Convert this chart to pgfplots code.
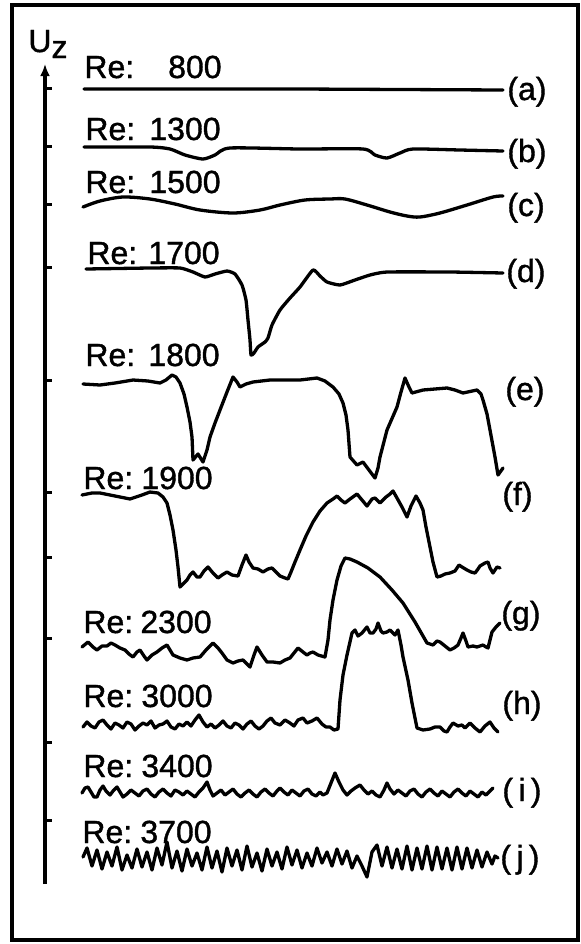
\documentclass[border=0pt]{standalone}
\usepackage{fontspec}
\setmainfont{Liberation Sans}[FakeBold=1.2]
\usepackage{pgfplots}
\pgfplotsset{compat=1.18}
\usetikzlibrary{arrows.meta}
\tikzset{lbl/.style={inner sep=0pt, font=\fontsize{16}{18}\selectfont}}
\pgfplotsset{trace/.style={black, mark=none, line width=1.65pt, line join=round, line cap=round}}

\begin{document}
\begin{tikzpicture}
\begin{axis}[
  width=290pt, height=472pt, scale only axis,
  xmin=0, xmax=580, ymin=0, ymax=944, y dir=reverse,
  hide axis, clip=false,
]
% page extent and frame
\path (0,0) rectangle (580,944);
\draw[line width=1.8pt] (12,5) rectangle (578,940);
% U_z axis
\draw[line width=2pt, -{Latex[length=6pt,width=5pt]}] (45,884) -- (45,64);
\draw[line width=1.5pt] (45,88) -- (52,88);
\draw[line width=1.5pt] (45,146) -- (52,146);
\draw[line width=1.5pt] (45,204) -- (52,204);
\draw[line width=1.5pt] (45,267) -- (52,267);
\draw[line width=1.5pt] (45,380) -- (52,380);
\draw[line width=1.5pt] (45,492) -- (52,492);
\draw[line width=1.5pt] (45,557) -- (52,557);
\draw[line width=1.5pt] (45,638) -- (52,638);
\draw[line width=1.5pt] (45,742) -- (52,742);
\draw[line width=1.5pt] (45,820) -- (52,820);
\node[lbl, anchor=base west] at (28,52) {U\raisebox{-3pt}{z}};

% (a) Re 800
\addplot[trace] coordinates {(84,89) (300,89) (503,90)};
% (b) Re 1300
\addplot[trace, smooth, tension=0.4] coordinates {(84,147) (150,147) (170,149) (185,155) (203,159) (215,155) (230,148) (300,149) (363,149) (375,155) (387,158) (400,153) (413,149) (460,150) (503,151)};
% (c) Re 1500
\addplot[trace, smooth, tension=0.5] coordinates {(83,207) (100,201) (123,197) (150,199) (175,204) (200,210) (233,213) (260,210) (280,205) (305,200) (330,199) (345,199) (367,205) (390,212) (407,216) (420,217) (440,213) (467,205) (493,197) (503,196)};
% (d) Re 1700
\addplot[trace, smooth, tension=0.3] coordinates {(86,269) (150,268) (180,268) (193,272) (205,277) (215,274) (227,271) (235,274) (242,285) (246,300) (248,320) (250,340) (251,355) (254,353) (258,347) (265,342) (268,338) (272,325) (280,310) (290,298) (300,287) (313,270) (320,276) (327,282) (340,285) (355,280) (370,275) (387,272) (450,272) (503,273)};
% (e) Re 1800
\addplot[trace] coordinates {(83,384) (100,385) (115,383) (133,380) (148,381) (160,383) (166,380) (172,375) (176,377) (180,383) (184,394) (187,407) (190,422) (192,437) (193,460) (198,454) (203,462) (207,450) (210,437) (215,423) (220,410) (227,392) (233,377) (237,382) (240,387) (246,384) (253,382) (270,380) (300,380) (317,378) (325,381) (333,387) (339,394) (343,403) (346,415) (348,430) (350,457) (357,465) (363,462) (369,470) (375,478) (378,468) (380,457) (387,430) (397,407) (401,392) (405,378) (409,387) (412,393) (423,390) (435,389) (447,388) (455,390) (463,393) (477,390) (481,394) (483,400) (487,414) (490,430) (495,457) (498,475) (503,468)};
% (f) Re 1900
\addplot[trace] coordinates {(82,495) (92,493) (100,493) (115,496) (130,499) (142,495) (150,492) (158,493) (163,497) (167,503) (170,515) (173,530) (176,550) (178,567) (180,587) (184,583) (187,580) (190,575) (193,572) (197,577) (200,577) (204,571) (208,567) (213,573) (218,578) (222,575) (227,572) (232,575) (238,576) (242,565) (246,555) (249,562) (253,568) (258,569) (263,572) (268,569) (272,568) (276,572) (280,576) (285,578) (288,579) (291,572) (295,562) (300,550) (306,536) (313,522) (320,511) (327,503) (333,499) (337,496) (341,500) (345,503) (350,499) (357,494) (362,500) (367,506) (372,499) (375,498) (380,503) (386,497) (390,494) (393,491) (397,498) (402,507) (407,517) (411,506) (416,496) (420,503) (423,510) (426,527) (430,547) (433,562) (437,577) (441,576) (445,574) (450,573) (455,571) (459,565) (462,567) (467,570) (471,572) (475,573) (478,569) (480,566) (485,563) (488,562) (490,568) (493,573) (497,567) (500,568)};
% (g) Re 2300
\addplot[trace] coordinates {(82,647) (88,642) (93,647) (97,650) (102,646) (107,646) (111,643) (115,645) (120,648) (125,650) (129,654) (133,657) (137,652) (140,650) (144,656) (147,660) (152,655) (157,652) (162,648) (167,645) (170,650) (173,655) (180,658) (187,660) (193,658) (200,657) (206,650) (213,643) (218,648) (222,653) (227,660) (233,663) (238,661) (243,660) (247,664) (250,667) (254,655) (257,647) (262,655) (267,662) (273,662) (280,663) (285,660) (290,658) (294,653) (298,648) (303,652) (307,655) (310,653) (313,652) (318,655) (325,657) (328,640) (330,620) (333,600) (337,580) (341,566) (345,558) (350,559) (357,562) (368,568) (380,577) (392,590) (403,603) (415,622) (427,643) (433,645) (437,641) (440,642) (445,646) (450,650) (454,648) (458,645) (461,638) (463,633) (466,641) (468,647) (473,646) (477,647) (480,646) (483,645) (486,647) (488,648) (490,640) (492,632) (496,627) (500,623)};
% (h) Re 3000
\addplot[trace] coordinates {(83,727) (87,722) (91,726) (95,728) (99,722) (103,720) (107,725) (111,729) (115,723) (119,725) (123,728) (127,722) (131,724) (135,730) (139,726) (143,723) (147,725) (151,721) (155,728) (159,725) (163,724) (167,721) (171,727) (175,729) (179,724) (183,726) (187,722) (191,726) (195,720) (199,715) (203,722) (207,727) (211,724) (215,728) (219,725) (223,721) (227,726) (231,728) (235,723) (239,725) (243,729) (247,724) (251,721) (255,726) (259,729) (263,726) (267,721) (271,718) (275,723) (280,725) (285,720) (290,723) (294,726) (298,720) (303,718) (307,723) (312,721) (317,718) (322,724) (326,727) (330,727) (334,730) (338,729) (340,700) (343,675) (347,655) (352,633) (355,630) (358,636) (362,633) (367,627) (370,633) (373,633) (376,629) (378,623) (381,631) (383,633) (387,632) (390,630) (393,633) (395,635) (398,630) (401,645) (403,657) (408,680) (412,703) (417,728) (423,730) (430,729) (435,727) (440,727) (444,731) (447,732) (450,727) (453,723) (458,726) (462,725) (465,728) (468,725) (470,723) (475,728) (480,732) (485,726) (490,722) (494,728) (498,732)};
% (i) Re 3400
\addplot[trace] coordinates {(82,793) (85,788) (88,787) (91,792) (94,797) (97,797) (100,790) (103,786) (106,791) (110,795) (113,791) (117,787) (120,792) (123,797) (127,794) (131,790) (135,793) (139,796) (143,791) (147,789) (151,794) (155,797) (159,792) (163,789) (167,793) (171,796) (175,790) (179,792) (183,795) (187,791) (191,794) (195,797) (199,792) (203,788) (207,782) (210,790) (213,796) (217,793) (221,790) (225,795) (229,792) (233,789) (237,794) (241,797) (245,793) (249,790) (253,794) (257,797) (261,792) (265,789) (269,793) (273,796) (277,791) (280,788) (284,792) (288,795) (292,790) (296,793) (300,796) (304,791) (308,789) (312,794) (316,796) (320,792) (323,795) (327,793) (331,783) (335,773) (339,782) (343,790) (347,795) (351,791) (355,788) (360,785) (364,790) (368,794) (372,791) (376,795) (380,797) (384,790) (387,783) (390,789) (394,794) (398,790) (402,793) (406,796) (410,791) (414,789) (418,794) (422,797) (426,792) (430,789) (434,793) (438,796) (442,791) (446,794) (450,797) (454,792) (458,789) (462,793) (466,796) (470,791) (474,794) (478,797) (482,792) (486,795) (490,791) (493,788)};
% (j) Re 3700
\addplot[trace] coordinates {(83,857) (87,848) (92,866) (97,850) (102,869) (107,852) (112,866) (117,847) (122,870) (127,855) (132,868) (137,849) (142,867) (147,852) (152,870) (157,848) (162,865) (167,842) (172,868) (177,851) (182,871) (187,849) (192,866) (197,853) (202,870) (207,847) (212,868) (217,851) (222,872) (227,848) (232,866) (237,850) (242,870) (247,846) (252,867) (257,853) (262,871) (267,849) (272,866) (277,852) (282,869) (287,847) (292,865) (297,850) (302,868) (307,853) (312,866) (317,848) (322,863) (327,852) (332,866) (337,849) (342,864) (347,851) (352,868) (357,856) (362,866) (367,877) (372,852) (377,845) (382,866) (387,847) (392,868) (397,849) (402,869) (407,846) (412,870) (417,848) (422,869) (427,846) (432,870) (437,847) (442,869) (447,848) (452,870) (457,847) (462,869) (467,848) (472,868) (477,850) (482,867) (487,852) (492,864) (495,856) (498,858)};

% Re labels
\node[lbl, anchor=base west] at (84,78) {Re:};  \node[lbl, anchor=base east] at (222,78) {800};
\node[lbl, anchor=base west] at (85,140) {Re:}; \node[lbl, anchor=base east] at (221,140) {1300};
\node[lbl, anchor=base west] at (85,193) {Re:}; \node[lbl, anchor=base east] at (221,193) {1500};
\node[lbl, anchor=base west] at (87,264) {Re:}; \node[lbl, anchor=base east] at (220,264) {1700};
\node[lbl, anchor=base west] at (85,366) {Re:}; \node[lbl, anchor=base east] at (220,366) {1800};
\node[lbl, anchor=base west] at (83,489) {Re:}; \node[lbl, anchor=base east] at (213,489) {1900};
\node[lbl, anchor=base west] at (83,633) {Re:}; \node[lbl, anchor=base east] at (212,633) {2300};
\node[lbl, anchor=base west] at (83,707) {Re:}; \node[lbl, anchor=base east] at (213,707) {3000};
\node[lbl, anchor=base west] at (83,777) {Re:}; \node[lbl, anchor=base east] at (213,777) {3400};
\node[lbl, anchor=base west] at (82,843) {Re:}; \node[lbl, anchor=base east] at (212,843) {3700};

% case labels
\node[lbl, anchor=base west] at (507,100) {(a)};
\node[lbl, anchor=base west] at (507,162) {(b)};
\node[lbl, anchor=base west] at (507,216) {(c)};
\node[lbl, anchor=base west] at (506,282) {(d)};
\node[lbl, anchor=base west] at (505,400) {(e)};
\node[lbl, anchor=base west] at (502,505) {(f)};
\node[lbl, anchor=base west] at (501,624) {(g)};
\node[lbl, anchor=base west] at (502,714) {(h)};
\node[lbl, anchor=base west] at (502,801) {(\,i\,)};
\node[lbl, anchor=base west] at (500,868) {(\,j\,)};
\end{axis}
\end{tikzpicture}
\end{document}
